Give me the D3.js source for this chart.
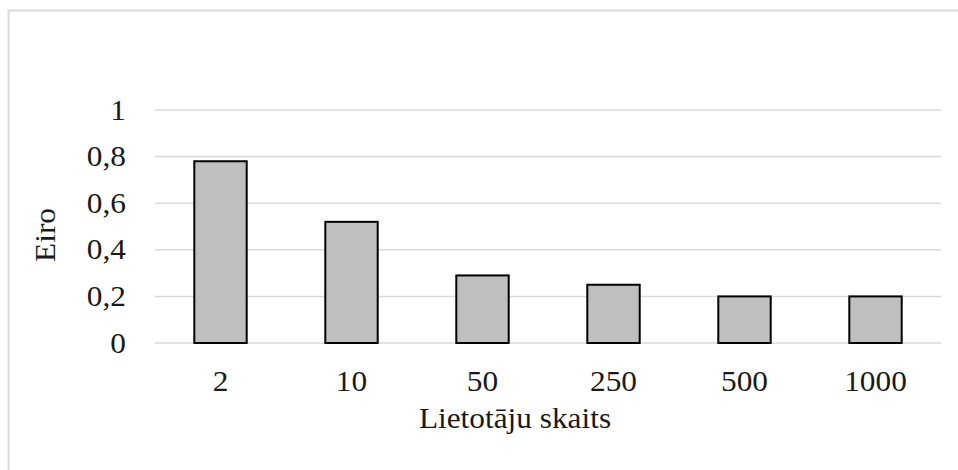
<!DOCTYPE html>
<html><head><meta charset="utf-8">
<script src="https://cdn.jsdelivr.net/npm/d3@7"></script>
<style>
html,body{margin:0;padding:0;background:#fff;}
svg{display:block;}
text{font-family:"Liberation Serif","Times New Roman",serif;fill:#1a1a1a;}
</style></head>
<body>
<svg id="c" width="958" height="470"></svg>
<script>
const categories = ["2","10","50","250","500","1000"];
const values = [0.78, 0.52, 0.29, 0.25, 0.2, 0.2];
const yTicks = [0, 0.2, 0.4, 0.6, 0.8, 1];
const yTickLabels = ["0","0,2","0,4","0,6","0,8","1"];
const yTitle = "Eiro";
const xTitle = "Lietotāju skaits";

const svg = d3.select("#c");
// chart border
svg.append("rect").attr("x",8.5).attr("y",10.5).attr("width",1000).attr("height",500)
  .attr("fill","none").attr("stroke","#d9d9d9").attr("stroke-width",2);

const x = d3.scaleBand().domain(categories).range([155, 941]).paddingInner(0.6).paddingOuter(0.3);
const y = d3.scaleLinear().domain([0,1]).range([343, 110]);

// gridlines
svg.append("g").selectAll("line").data(yTicks).join("line")
  .attr("x1",155).attr("x2",941)
  .attr("y1",d=>y(d)).attr("y2",d=>y(d))
  .attr("stroke","#d9d9d9").attr("stroke-width",1.5);

// y tick labels
svg.append("g").selectAll("text").data(yTicks).join("text")
  .attr("x",126).attr("y",d=>y(d)).attr("dy","0.33em")
  .attr("text-anchor","end").attr("font-size",29)
  .attr("transform-origin", d=>`126 ${y(d)}`)
  .attr("transform","scale(1.08,1)")
  .text((d,i)=>yTickLabels[i]);

// bars
svg.append("g").selectAll("rect").data(values).join("rect")
  .attr("x",(d,i)=>x(categories[i]))
  .attr("y",d=>y(d))
  .attr("width",x.bandwidth())
  .attr("height",d=>y(0)-y(d))
  .attr("fill","#bfbfbf").attr("stroke","#000").attr("stroke-width",2);

// x tick labels
svg.append("g").selectAll("text").data(categories).join("text")
  .attr("x",d=>x(d)+x.bandwidth()/2).attr("y",391)
  .attr("text-anchor","middle").attr("font-size",29)
  .attr("transform-origin", d=>`${x(d)+x.bandwidth()/2} 391`)
  .attr("transform","scale(1.08,1)")
  .text(d=>d);

// axis titles
svg.append("text").attr("x",515).attr("y",428).attr("text-anchor","middle")
  .attr("font-size",29).attr("transform-origin","515 428").attr("transform","scale(1.08,1)")
  .text(xTitle);
svg.append("text").attr("transform","translate(55,235) rotate(-90) scale(1.08,1)")
  .attr("text-anchor","middle").attr("font-size",29).text(yTitle);
</script>
</body></html>
